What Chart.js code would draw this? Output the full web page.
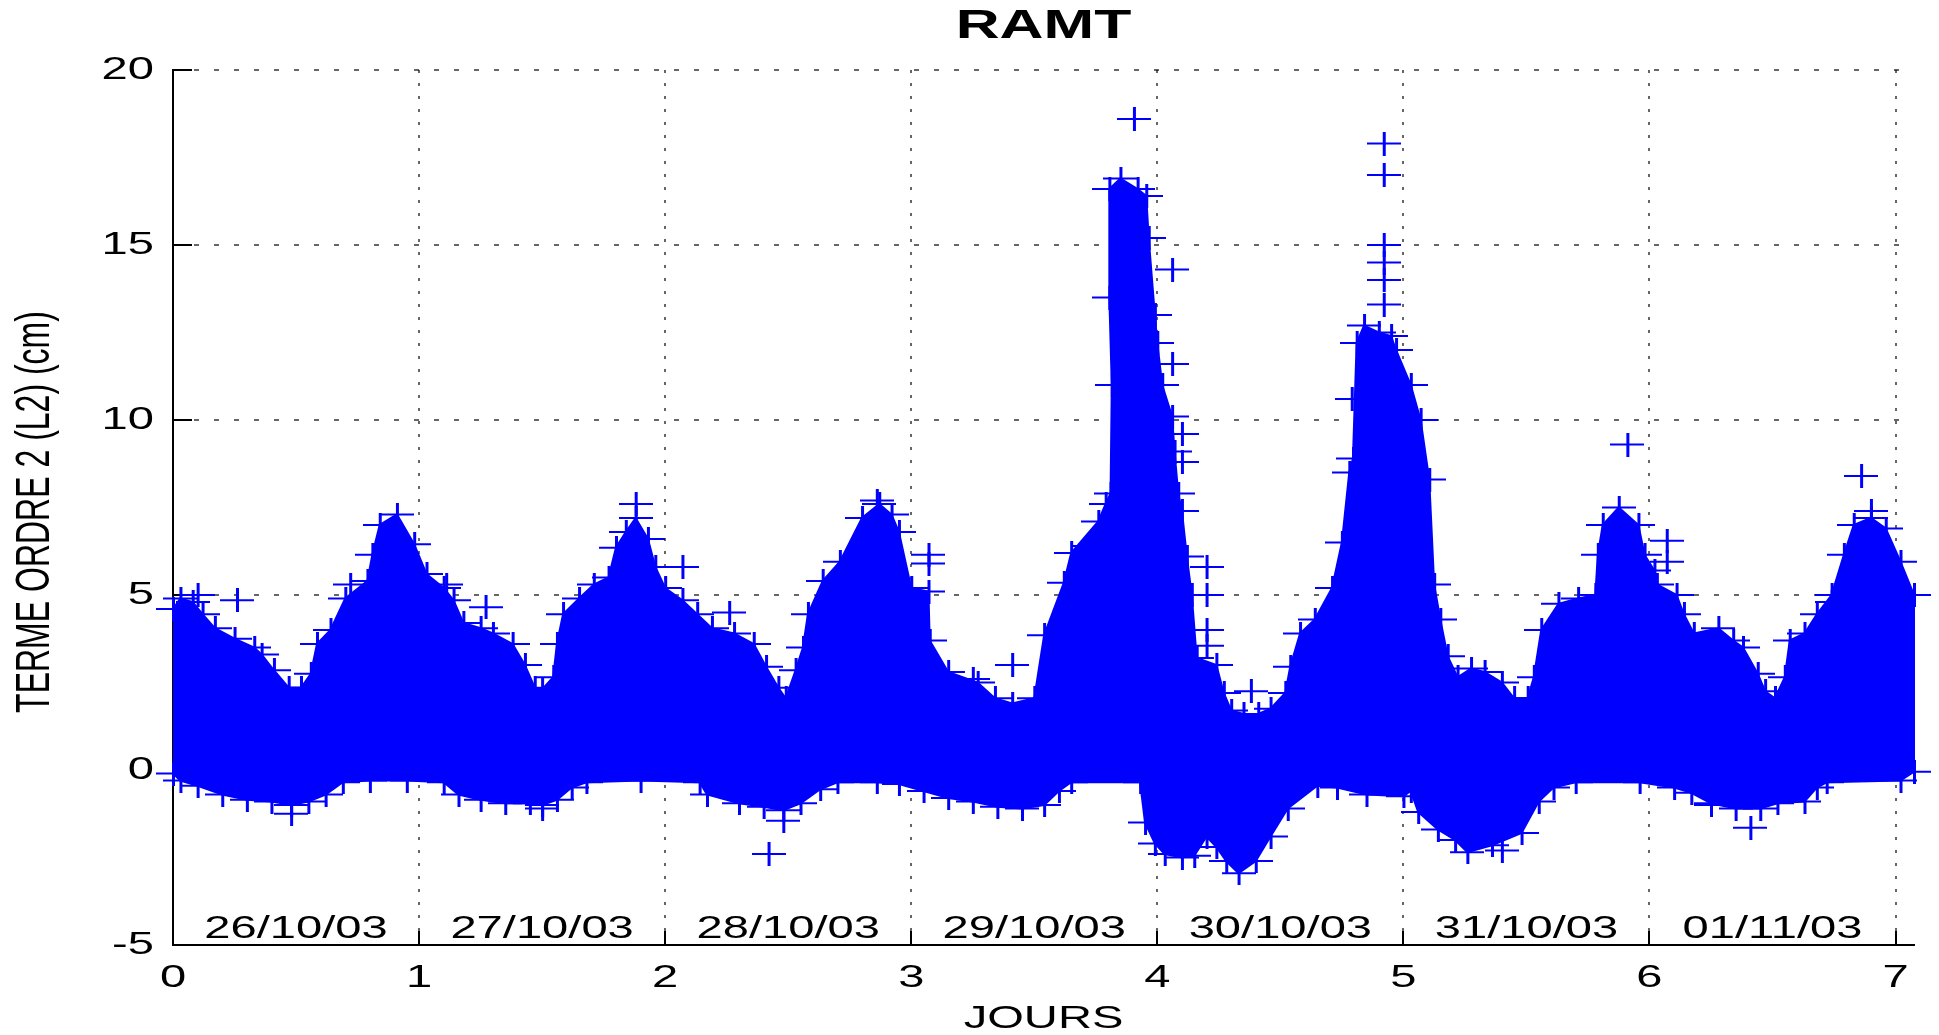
<!DOCTYPE html>
<html>
<head>
<meta charset="utf-8">
<title>RAMT</title>
<script src="https://cdn.jsdelivr.net/npm/chart.js@4.4.1/dist/chart.umd.min.js"></script>
<style>
  html, body { margin: 0; padding: 0; background: #fff; }
  canvas { display: block; }
</style>
</head>
<body>
<canvas id="chart" width="1939" height="1035"></canvas>
<script>
// upper edge of the cloud of points (days, cm)
const upperDays = [
  0.00, 0.03, 0.08, 0.12, 0.17, 0.25, 0.33, 0.36, 0.41, 0.47,
  0.52, 0.56, 0.585, 0.64, 0.70, 0.79, 0.81, 0.84, 0.91, 0.98,
  1.03, 1.10, 1.14, 1.18, 1.25, 1.30, 1.38, 1.43, 1.47, 1.50,
  1.545, 1.56, 1.585, 1.65, 1.71, 1.77, 1.80, 1.84, 1.88, 1.93,
  1.96, 2.00, 2.07, 2.13, 2.19, 2.28, 2.36, 2.41, 2.46, 2.49,
  2.53, 2.56, 2.58, 2.64, 2.71, 2.80, 2.87, 2.92, 2.95, 3.00,
  3.07, 3.075, 3.15, 3.27, 3.34, 3.41, 3.50, 3.54, 3.62, 3.65,
  3.76, 3.79, 3.81, 3.815, 3.805, 3.805, 3.85, 3.92, 3.955, 3.965,
  3.99, 4.00, 4.02, 4.06, 4.07, 4.085, 4.10, 4.12, 4.14, 4.16,
  4.24, 4.27, 4.30, 4.35, 4.41, 4.46, 4.52, 4.54, 4.58, 4.64,
  4.71, 4.75, 4.78, 4.795, 4.81, 4.84, 4.90, 4.95, 4.97, 5.03,
  5.07, 5.105, 5.125, 5.15, 5.18, 5.22, 5.275, 5.33, 5.40, 5.45,
  5.505, 5.53, 5.56, 5.63, 5.71, 5.78, 5.79, 5.81, 5.875, 5.955,
  5.98, 6.02, 6.03, 6.11, 6.14, 6.18, 6.28, 6.34, 6.38, 6.44,
  6.47, 6.51, 6.55, 6.57, 6.63, 6.68, 6.74, 6.79, 6.83, 6.90,
  6.96, 7.02, 7.075
];
const upperVals = [
  4.6, 4.9, 4.8, 4.45, 4.05, 3.75, 3.5, 3.3, 2.85, 2.35,
  2.35, 2.75, 3.6, 4.0, 4.9, 5.4, 6.15, 7.0, 7.3, 6.45,
  5.6, 5.2, 4.85, 4.2, 4.05, 3.9, 3.6, 3.0, 2.35, 2.3,
  2.65, 3.6, 4.45, 4.9, 5.3, 5.5, 6.35, 6.8, 7.2, 6.6,
  5.8, 5.2, 4.85, 4.45, 4.05, 3.9, 3.6, 2.95, 2.35, 2.05,
  2.85, 3.5, 4.45, 5.4, 5.95, 7.2, 7.6, 7.3, 6.8, 5.2,
  5.1, 3.7, 2.8, 2.5, 2.05, 1.9, 2.05, 3.85, 5.35, 6.2,
  7.1, 7.6, 7.9, 11.0, 13.5, 16.6, 16.9, 16.6, 16.4, 15.2,
  13.0, 12.2, 11.0, 10.1, 9.1, 7.9, 7.4, 6.1, 5.0, 3.2,
  3.0, 2.2, 1.7, 1.6, 1.6, 1.75, 2.2, 2.95, 3.9, 4.3,
  5.2, 6.5, 8.5, 8.9, 12.2, 12.7, 12.5, 12.4, 12.0, 11.0,
  10.0, 8.3, 5.3, 4.3, 3.25, 2.65, 2.9, 2.8, 2.5, 2.05,
  2.05, 2.65, 4.0, 4.75, 4.9, 5.0, 6.15, 7.0, 7.5, 7.0,
  6.15, 5.7, 5.3, 5.0, 4.45, 3.9, 4.05, 3.7, 3.5, 2.75,
  2.25, 2.05, 2.65, 3.7, 3.9, 4.45, 5.0, 6.15, 7.0, 7.2,
  6.9, 5.95, 5.0
];

// lower edge of the cloud of points
const lowerDays = [
  0.00, 0.03, 0.10, 0.20, 0.30, 0.40, 0.48, 0.55, 0.62, 0.69,
  0.80, 0.95, 1.10, 1.16, 1.25, 1.35, 1.45, 1.50, 1.56, 1.62,
  1.68, 1.90, 2.14, 2.17, 2.30, 2.40, 2.48, 2.55, 2.63, 2.70,
  2.86, 2.95, 3.05, 3.15, 3.25, 3.35, 3.45, 3.54, 3.60, 3.65,
  3.93, 3.95, 3.99, 4.03, 4.10, 4.15, 4.20, 4.24, 4.28, 4.33,
  4.40, 4.46, 4.53, 4.65, 4.73, 4.85, 5.00, 5.03, 5.06, 5.14,
  5.21, 5.26, 5.36, 5.48, 5.55, 5.61, 5.70, 5.96, 6.10, 6.17,
  6.25, 6.35, 6.45, 6.52, 6.63, 6.68, 6.72, 7.02, 7.075
];
const lowerVals = [
  -0.1, -0.3, -0.45, -0.7, -0.85, -0.9, -1.0, -0.9, -0.7, -0.35,
  -0.3, -0.3, -0.35, -0.7, -0.85, -0.95, -0.95, -1.0, -0.85, -0.5,
  -0.35, -0.3, -0.35, -0.7, -0.95, -1.05, -1.15, -0.95, -0.55, -0.35,
  -0.35, -0.4, -0.6, -0.8, -0.9, -1.05, -1.1, -1.0, -0.6, -0.35,
  -0.35, -1.5, -2.1, -2.4, -2.5, -2.45, -1.9, -2.2, -2.6, -2.95,
  -2.6, -1.9, -1.1, -0.45, -0.5, -0.7, -0.75, -0.6, -1.2, -1.7,
  -2.0, -2.35, -2.15, -1.8, -0.9, -0.5, -0.35, -0.35, -0.5, -0.65,
  -0.95, -1.1, -1.1, -0.95, -0.9, -0.5, -0.35, -0.3, -0.05
];

// isolated points standing out of the cloud
const outlierDays = [
  0.10, 0.26, 0.72, 1.11, 1.27, 0.48, 1.50, 1.88, 2.07, 2.26,
  2.48, 2.42, 2.86, 3.07, 3.07, 3.25, 3.41, 3.72, 3.905, 4.06,
  4.06, 4.10, 4.10, 4.20, 4.20, 4.20, 4.20, 4.38, 4.79, 4.92,
  4.92, 4.92, 4.92, 4.92, 4.92, 5.40, 5.91, 6.07, 6.07, 6.25,
  6.41, 6.74, 6.86, 6.90
];
const outlierVals = [
  5.0, 4.85, 5.3, 5.3, 4.65, -1.25, -1.1, 7.6, 5.8, 4.5,
  -1.45, -2.4, 7.7, 6.15, 5.9, 2.6, 3.0, 6.4, 18.6, 14.3,
  11.6, 9.6, 8.8, 5.8, 5.0, 4.0, 3.55, 2.25, 10.6, 17.9,
  17.0, 15.0, 14.5, 14.0, 13.3, -2.3, 9.3, 6.55, 5.95, -1.0,
  -1.65, 4.8, 8.4, 7.4
];

const dateLabels = ['26/10/03', '27/10/03', '28/10/03', '29/10/03', '30/10/03', '31/10/03', '01/11/03'];

if (upperDays.length !== upperVals.length) throw new Error('upper ' + upperDays.length + ' vs ' + upperVals.length);
if (lowerDays.length !== lowerVals.length) throw new Error('lower ' + lowerDays.length + ' vs ' + lowerVals.length);
if (outlierDays.length !== outlierVals.length) throw new Error('outliers ' + outlierDays.length + ' vs ' + outlierVals.length);

const BLUE = '#0000ff';
const FONT = '"Liberation Sans", Arial, Helvetica, sans-serif';
const SX = 1.52; // the original figure is stretched horizontally

// "+" marker, wider than tall like in the stretched original
function makePlus(w, h) {
  const c = document.createElement('canvas');
  c.width = w; c.height = h;
  const g = c.getContext('2d');
  g.fillStyle = BLUE;
  g.fillRect(0, Math.floor(h / 2) - 1, w, 2);
  g.fillRect(Math.floor(w / 2) - 1, 0, 3, h);
  return c;
}
const plus = makePlus(34, 24);

// closed outline: upper edge left to right, lower edge back
const band = upperDays.map((d, i) => ({ x: d, y: upperVals[i] }));
for (let i = lowerDays.length - 1; i >= 0; i--) band.push({ x: lowerDays[i], y: lowerVals[i] });

const outliers = outlierDays.map((d, i) => ({ x: d, y: outlierVals[i] }));

function text(ctx, str, x, y, size, align, bold, vertical) {
  ctx.save();
  ctx.translate(x, y);
  if (vertical) { ctx.rotate(-Math.PI / 2); ctx.scale(1, SX); }
  else ctx.scale(SX, 1);
  ctx.font = (bold ? 'bold ' : '') + size + 'px ' + FONT;
  ctx.fillStyle = '#000';
  ctx.textAlign = align;
  ctx.textBaseline = 'middle';
  ctx.fillText(str, 0, 0);
  ctx.restore();
}

const decor = {
  id: 'decor',
  beforeDatasetsDraw(chart) {
    const { ctx, chartArea: a, scales: { x, y } } = chart;
    // inward ticks
    ctx.save();
    ctx.strokeStyle = '#000';
    ctx.lineWidth = 2;
    x.ticks.forEach(t => {
      const px = Math.round(x.getPixelForValue(t.value));
      ctx.beginPath(); ctx.moveTo(px, a.bottom); ctx.lineTo(px, a.bottom - 14); ctx.stroke();
    });
    y.ticks.forEach(t => {
      const py = Math.round(y.getPixelForValue(t.value));
      ctx.beginPath(); ctx.moveTo(a.left, py); ctx.lineTo(a.left + 19, py); ctx.stroke();
    });
    ctx.restore();
  },
  afterDraw(chart) {
    const { ctx, chartArea: a, scales: { x, y } } = chart;
    const cx = (a.left + a.right) / 2;
    y.ticks.forEach(t => text(ctx, String(t.value), 154, y.getPixelForValue(t.value), 31, 'right'));
    x.ticks.forEach(t => text(ctx, String(t.value), x.getPixelForValue(t.value), 978, 31, 'center'));
    dateLabels.forEach((lab, i) => text(ctx, lab, x.getPixelForValue(i + 0.5), 929, 31, 'center'));
    text(ctx, 'RAMT', cx, 27, 40, 'center', true);
    text(ctx, 'JOURS', cx, 1019, 31, 'center');
    text(ctx, 'TERME ORDRE 2 (L2) (cm)', 36, 512, 32, 'center', false, true);
  }
};

new Chart(document.getElementById('chart'), {
  type: 'scatter',
  data: {
    datasets: [
      {
        data: band,
        showLine: true,
        fill: 'shape',
        borderColor: BLUE,
        backgroundColor: BLUE,
        borderWidth: 2,
        pointStyle: plus,
        pointRadius: 4,
        clip: false
      },
      {
        data: outliers,
        showLine: false,
        pointStyle: plus,
        pointRadius: 4,
        clip: false
      }
    ]
  },
  options: {
    responsive: false,
    animation: false,
    devicePixelRatio: 1,
    layout: { padding: { left: 173, right: 25, top: 70, bottom: 90 } },
    plugins: {
      legend: { display: false },
      tooltip: { enabled: false },
      title: { display: false }
    },
    scales: {
      x: {
        type: 'linear',
        min: 0,
        max: 7.075,
        ticks: { stepSize: 1, includeBounds: false, display: false },
        grid: { color: 'rgba(0,0,0,0.6)', lineWidth: 2, drawTicks: false },
        border: { color: '#000', width: 2, dash: [3, 10] },
        afterFit(s) { s.height = 0; }
      },
      y: {
        min: -5,
        max: 20,
        ticks: { stepSize: 5, display: false },
        grid: { color: 'rgba(0,0,0,0.6)', lineWidth: 2, drawTicks: false },
        border: { color: '#000', width: 2, dash: [5, 15] },
        afterFit(s) { s.width = 0; }
      }
    }
  },
  plugins: [decor]
});
</script>
</body>
</html>
